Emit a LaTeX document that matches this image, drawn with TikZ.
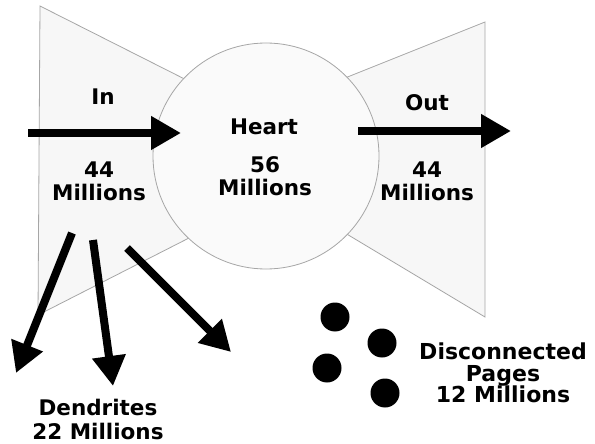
\documentclass[tikz,border=0pt]{standalone}
\usepackage{fontspec}
\setmainfont{DejaVu Sans}
\usetikzlibrary{arrows.meta}
\begin{document}
\begin{tikzpicture}[x=1pt,y=-1pt,
 lbl/.style={font=\fontsize{21.5}{23}\selectfont\bfseries, align=center, inner sep=0pt},
 region/.style={draw=black!35, fill=black!3, line width=0.8pt},
 bigarrow/.style={line width=8pt, -{Triangle[length=30pt,width=32pt]}},
 dot/.style={circle, fill=black, minimum size=29pt, inner sep=0pt}]
\useasboundingbox (0,0) rectangle (595,444);
% bow-tie wings
\path[region] (40,6) -- (240,107) -- (240,212) -- (38,315) -- cycle;
\path[region] (485,22) -- (290,100) -- (290,200) -- (485,317) -- cycle;
% heart
\node[circle, region, fill=black!2, minimum size=226pt, inner sep=0pt] (heart) at (266,156) {};
% labels
\node[lbl] (inlbl) at (103,97) {In};
\node[lbl] (innum) at (99,181) {44\\Millions};
\node[lbl] (heartlbl) at (264,127) {Heart};
\node[lbl] (heartnum) at (265,176) {56\\Millions};
\node[lbl] (outlbl) at (427,103) {Out};
\node[lbl] (outnum) at (427,181) {44\\Millions};
\node[lbl, font=\fontsize{21.5}{24}\selectfont\bfseries] (dend) at (98,419) {Dendrites\\22 Millions};
\node[lbl, font=\fontsize{22}{21.5}\selectfont\bfseries] (disc) at (503,373) {Disconnected\\Pages\\12 Millions};
% main arrows
\coordinate (inS) at (28,133);
\coordinate (inE) at (181,133);
\coordinate (outS) at (358,131);
\coordinate (outE) at (511,131);
\draw[bigarrow] (inS) -- (inE);
\draw[bigarrow] (outS) -- (outE);
% dendrite arrows
\coordinate (d1s) at (72,233);
\coordinate (d1e) at (16,373);
\coordinate (d2s) at (93,240);
\coordinate (d2e) at (113,386);
\coordinate (d3s) at (127,248);
\coordinate (d3e) at (231,352);
\draw[bigarrow] (d1s) -- (d1e);
\draw[bigarrow] (d2s) -- (d2e);
\draw[bigarrow] (d3s) -- (d3e);
% disconnected pages
\node[dot] (p1) at (335,317) {};
\node[dot] (p2) at (382,343) {};
\node[dot] (p3) at (327,368) {};
\node[dot] (p4) at (385,393) {};
\end{tikzpicture}
\end{document}
